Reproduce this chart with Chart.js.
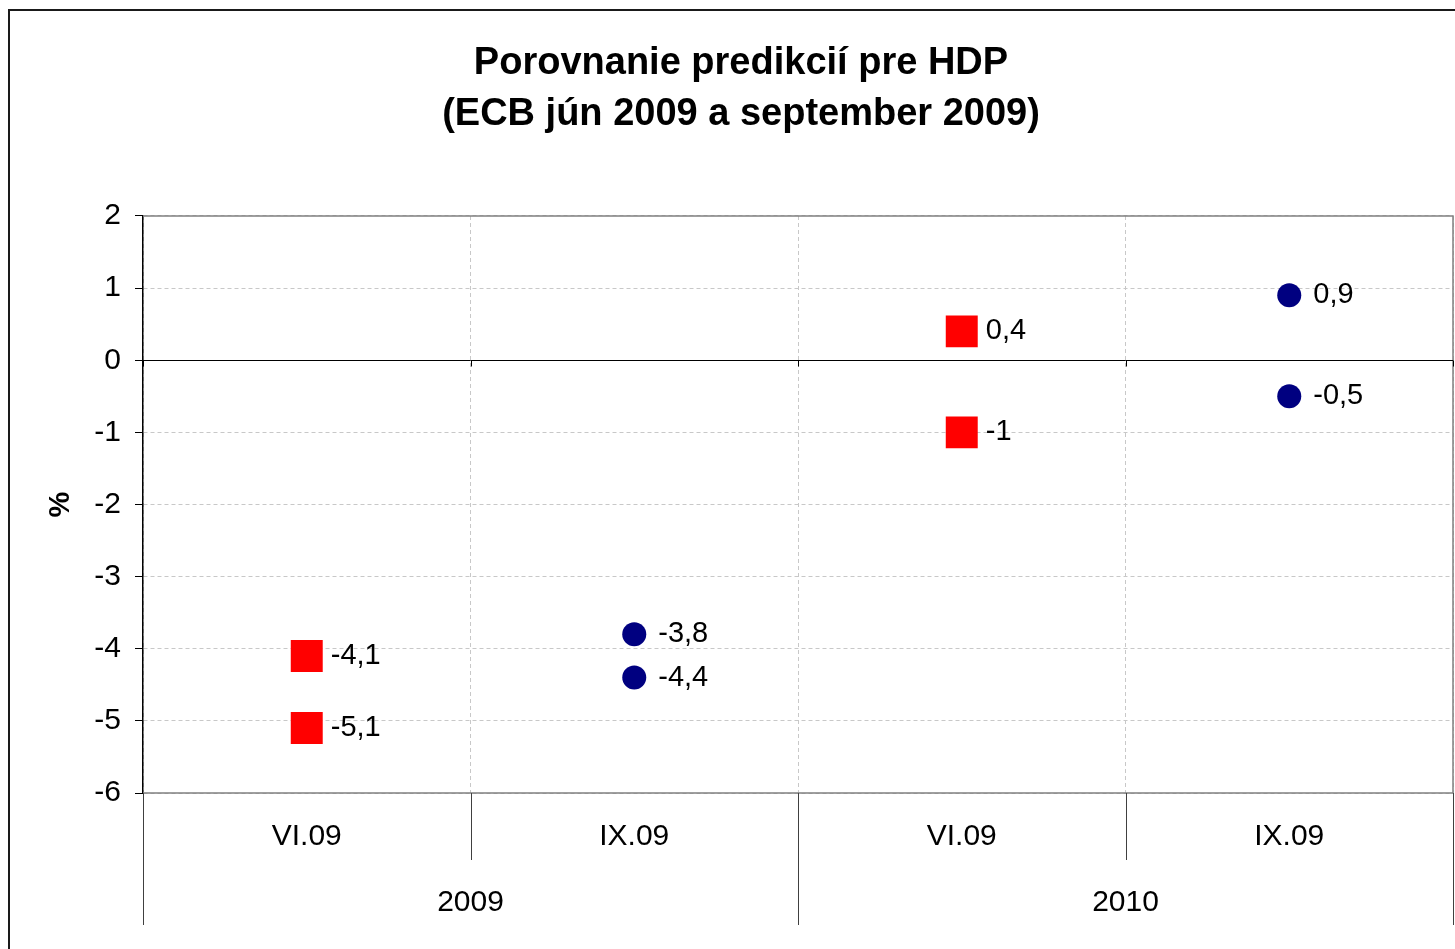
<!DOCTYPE html>
<html>
<head>
<meta charset="utf-8">
<script src="https://cdn.jsdelivr.net/npm/chart.js@4/dist/chart.umd.min.js"></script>
<style>
  body { margin: 0; background: #fff; }
  #wrap { width: 1455px; height: 949px; position: relative; }
</style>
</head>
<body>
<div id="wrap"><canvas id="chart"></canvas></div>
<script>
// categories: first level (forecast release), second level (forecast year)
const categories = ['VI.09', 'IX.09', 'VI.09', 'IX.09'];
const groups = ['2009', '2010'];
const yTicks = [2, 1, 0, -1, -2, -3, -4, -5, -6];

// ECB June 2009 projection range (red squares)
const junMax = [-4.1, null, 0.4, null];
const junMin = [-5.1, null, -1, null];
// ECB September 2009 projection range (navy circles)
const sepMax = [null, -3.8, null, 0.9];
const sepMin = [null, -4.4, null, -0.5];

const FONT = 'Arial, "Liberation Sans", sans-serif';
const RED = '#ff0000';
const NAVY = '#000080';

function fmt(v) {
    return String(v).replace('.', ',');
}

const decor = {
    id: 'decor',
    beforeDraw(chart) {
        const ctx = chart.ctx;
        ctx.save();
        ctx.fillStyle = '#fff';
        ctx.fillRect(0, 0, chart.width, chart.height);
        ctx.strokeStyle = '#1a1a1a';
        ctx.lineWidth = 2;
        ctx.strokeRect(9, 10, 2000, 2000);
        ctx.restore();
    },
    beforeDatasetsDraw(chart) {
        const ctx = chart.ctx;
        const a = chart.chartArea;
        const x = chart.scales.x;
        const y = chart.scales.y;
        const step = x.getPixelForValue(1) - x.getPixelForValue(0);
        ctx.save();
        // plot area border (top, right, bottom)
        ctx.strokeStyle = '#808080';
        ctx.lineWidth = 1.5;
        ctx.beginPath();
        ctx.moveTo(a.left, a.top);
        ctx.lineTo(a.right, a.top);
        ctx.lineTo(a.right, a.bottom);
        ctx.lineTo(a.left, a.bottom);
        ctx.stroke();
        // zero line with small ticks
        const y0 = Math.round(y.getPixelForValue(0)) + 0.5;
        ctx.strokeStyle = '#000';
        ctx.lineWidth = 1;
        ctx.beginPath();
        ctx.moveTo(a.left, y0);
        ctx.lineTo(a.right, y0);
        for (let i = 0; i <= categories.length; i++) {
            const bx = Math.round(x.getPixelForValue(0) - step / 2 + i * step) + 0.5;
            ctx.moveTo(bx, y0);
            ctx.lineTo(bx, y0 + 6);
        }
        ctx.stroke();
        // separators under the axis
        ctx.strokeStyle = '#404040';
        ctx.beginPath();
        for (let i = 0; i <= categories.length; i++) {
            const bx = Math.round(x.getPixelForValue(0) - step / 2 + i * step) + 0.5;
            const len = i % 2 === 0 ? 132 : 67;
            ctx.moveTo(bx, a.bottom);
            ctx.lineTo(bx, a.bottom + len);
        }
        ctx.stroke();
        // group labels
        ctx.fillStyle = '#000';
        ctx.font = '30px ' + FONT;
        ctx.textAlign = 'center';
        ctx.textBaseline = 'middle';
        groups.forEach((g, i) => {
            const cx = (x.getPixelForValue(i * 2) + x.getPixelForValue(i * 2 + 1)) / 2;
            ctx.fillText(g, cx, a.bottom + 110);
        });
        ctx.restore();
    },
    afterDatasetsDraw(chart) {
        const ctx = chart.ctx;
        ctx.save();
        ctx.fillStyle = '#000';
        ctx.font = '29px ' + FONT;
        ctx.textAlign = 'left';
        ctx.textBaseline = 'middle';
        chart.data.datasets.forEach((ds, di) => {
            const meta = chart.getDatasetMeta(di);
            meta.data.forEach((pt, i) => {
                const v = ds.data[i];
                if (v === null) return;
                ctx.fillText(fmt(v), pt.x + 24, pt.y);
            });
        });
        ctx.restore();
    }
};

function pointSet(label, data, color, style, radius) {
    return {
        label: label,
        data: data,
        showLine: false,
        pointStyle: style,
        pointRadius: radius,
        pointHoverRadius: radius,
        pointBackgroundColor: color,
        pointBorderColor: color,
        pointBorderWidth: 0,
        borderColor: color,
        backgroundColor: color
    };
}

new Chart(document.getElementById('chart'), {
    type: 'line',
    data: {
        labels: categories,
        datasets: [
            pointSet('ECB jún 2009 max', junMax, RED, 'rect', 22.6),
            pointSet('ECB jún 2009 min', junMin, RED, 'rect', 22.6),
            pointSet('ECB september 2009 max', sepMax, NAVY, 'circle', 12),
            pointSet('ECB september 2009 min', sepMin, NAVY, 'circle', 12)
        ]
    },
    options: {
        responsive: true,
        maintainAspectRatio: false,
        animation: false,
        events: [],
        layout: { autoPadding: false, padding: { left: 29, right: 2, top: 0, bottom: 0 } },
        plugins: {
            legend: { display: false },
            tooltip: { enabled: false },
            title: {
                display: true,
                text: ['Porovnanie predikcií pre HDP', '(ECB jún 2009 a september 2009)'],
                color: '#000',
                font: { family: FONT, size: 38, weight: 'bold', lineHeight: 1.342 },
                padding: { top: 38, bottom: 76 }
            }
        },
        scales: {
            x: {
                offset: true,
                grid: {
                    offset: true,
                    color: '#c8c8c8',
                    lineWidth: 1,
                    drawTicks: false
                },
                border: { display: false, dash: [4, 3] },
                ticks: {
                    color: '#000',
                    font: { family: FONT, size: 30 },
                    padding: 26,
                    maxRotation: 0,
                    autoSkip: false
                },
                afterFit(scale) {
                    scale.height = 156;
                    scale.paddingLeft = 0;
                    scale.paddingRight = 0;
                }
            },
            y: {
                min: -6,
                max: 2,
                afterBuildTicks(scale) {
                    scale.ticks = yTicks.map(v => ({ value: v }));
                },
                grid: {
                    color: '#c8c8c8',
                    lineWidth: 1,
                    tickColor: '#000',
                    tickLength: 8,
                    tickBorderDash: []
                },
                border: { display: true, color: '#000', width: 1.5, dash: [4, 3] },
                ticks: {
                    color: '#000',
                    font: { family: FONT, size: 30 },
                    padding: 14
                },
                title: {
                    display: true,
                    text: '%',
                    color: '#000',
                    font: { family: FONT, size: 29, weight: 'bold' },
                    padding: { top: 15, bottom: 0 }
                },
                afterFit(scale) { scale.width = 114; }
            }
        }
    },
    plugins: [decor]
});
</script>
</body>
</html>
